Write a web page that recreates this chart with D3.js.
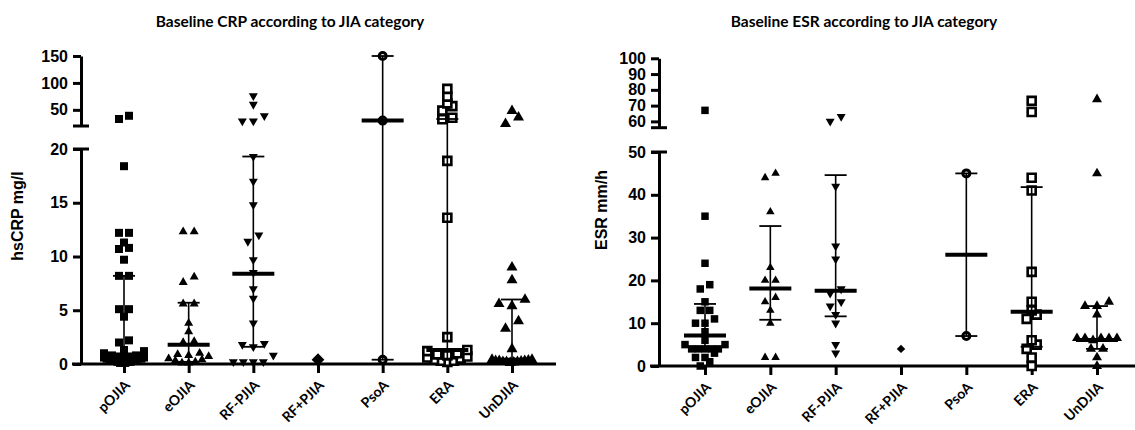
<!DOCTYPE html>
<html>
<head>
<meta charset="utf-8">
<script src="https://cdn.jsdelivr.net/npm/d3@7"></script>
<style>
body { margin: 0; background: #fff; }
svg { display: block; }
</style>
</head>
<body>
<svg id="canvas" width="1135" height="430"></svg>
<script>
let categories = ["pOJIA", "eOJIA", "RF-PJIA", "RF+PJIA", "PsoA", "ERA", "UnDJIA"]

// baseline hsCRP (mg/l), one list per category
let crpPOJIA = [39, 33, 18.4, 12.2, 12.2, 11.3, 10.8, 10.7, 9.7, 8.2, 8.2, 5.1, 5.1, 4.4, 2.2, 2.0, 1.3, 1.2, 1.0,
  0.8, 0.8, 0.7, 0.7, 0.6, 0.6, 0.5, 0.5, 0.5, 0.4, 0.4, 0.3, 0.3, 0.3, 0.2, 0.2, 0.2, 0.1, 0.1, 0.1]
let crpEOJIA = [12.3, 12.3, 8.1, 7.6, 5.6, 5.6, 3.8, 3.0, 2.1, 2.0, 1.0, 0.9, 0.8, 0.7, 0.5, 0.4, 0.3, 0.2, 0.1, 0.1]
let crpRFminus = [76, 60, 39, 29, 29, 19.3, 17.0, 14.8, 12.0, 11.4, 9.7, 8.5, 7.0, 6.1, 3.8, 1.9, 1.8, 1.6, 0.8, 0.2, 0.2, 0.2, 0.2]
let crpRFplus = [0.4]
let crpPsoA = [150, 30, 0.4]
let crpERA = [89, 74.5, 62, 57, 48.5, 35.4, 32.5, 18.9, 13.6, 2.5, 1.3, 1.2, 1.0, 0.9, 0.8, 0.7, 0.6, 0.5, 0.4, 0.3, 0.3, 0.2]
let crpUnDJIA = [48, 36, 24, 9.0, 7.8, 6.0, 5.6, 5.4, 4.0, 3.3, 1.4, 0.4, 0.4, 0.35, 0.3, 0.3, 0.3, 0.25, 0.2, 0.2, 0.2, 0.15, 0.1]

let crpMedian = [0.8, 1.8, 8.4, null, 30, 1.3, 0.4]
let crpQ1 = [0.3, 0.2, 1.6, null, 0.4, 0.5, 0.2]
let crpQ3 = [8.2, 5.7, 19.3, null, 150, 33, 6.0]

let crpTicksLow = [0, 5, 10, 15, 20]
let crpTicksHigh = [50, 100, 150]

// baseline ESR (mm/h), one list per category
let esrPOJIA = [67, 35, 24, 19, 18, 15, 13, 13, 11, 10, 10, 8, 6, 5, 5, 4, 4, 4, 4, 4, 3, 2, 2, 1, 0]
let esrEOJIA = [45, 44, 36, 23, 20, 20, 16, 15, 13, 10, 2, 2]
let esrRFminus = [63, 60, 42, 28, 25, 18, 17, 15, 14, 12, 10, 5, 3]
let esrRFplus = [4]
let esrPsoA = [45, 7]
let esrERA = [73, 66, 44, 41, 22, 15, 13, 12, 11, 6, 5, 4, 2, 0]
let esrUnDJIA = [74, 45, 15, 14, 14, 12, 6.5, 6.5, 6.5, 6.5, 6.5, 6, 4, 4, 2, 0]

let esrMedian = [7.1, 18.1, 17.6, null, 26, 12.7, 6.1]
let esrQ1 = [4, 10.8, 11.6, null, 7, 4.5, 4.0]
let esrQ3 = [14.5, 32.7, 44.6, null, 45, 41.8, 14.0]

let esrTicksLow = [0, 10, 20, 30, 40, 50]
let esrTicksHigh = [60, 70, 80, 90, 100]

let canvas = d3.select('#canvas')

// marker look per category: shape, size (px), open or filled
let crpMarkers = [
  {shape: 'square', size: 8}, {shape: 'triangle', size: 9}, {shape: 'triangleDown', size: 9},
  {shape: 'diamond', size: 9}, {shape: 'circle', size: 7, open: true}, {shape: 'square', size: 8, open: true},
  {shape: 'triangle', size: 11}
]
let esrMarkers = [
  {shape: 'square', size: 7.5}, {shape: 'triangle', size: 8.5}, {shape: 'triangleDown', size: 9},
  {shape: 'diamond', size: 6}, {shape: 'circle', size: 7, open: true}, {shape: 'square', size: 8, open: true},
  {shape: 'triangle', size: 10}
]

let markerPath = (m) => {
  if (m.shape === 'square') return d3.symbol(d3.symbolSquare, m.size * m.size)()
  if (m.shape === 'diamond') return d3.symbol(d3.symbolSquare, m.size * m.size)()
  if (m.shape === 'circle') return d3.symbol(d3.symbolCircle, Math.PI * m.size * m.size / 4)()
  return d3.symbol(d3.symbolTriangle, Math.sqrt(3) / 4 * m.size * m.size)()
}
let markerRotate = (m) => {
  if (m.shape === 'triangleDown') return ' rotate(180)'
  if (m.shape === 'diamond') return ' rotate(45)'
  return ''
}

// spread points of similar height side by side, like a column scatter
let spread = (values, y, size, step, maxHalf) => {
  let pts = values.map(v => ({v: v, y: y(v)})).sort((a, b) => b.y - a.y)
  let rows = []
  pts.forEach(p => {
    let row = rows[rows.length - 1]
    if (row && Math.abs(row[0].y - p.y) < size * 0.8) row.push(p)
    else rows.push([p])
  })
  rows.forEach(row => {
    let n = row.length
    let s = n > 1 ? Math.min(step, 2 * maxHalf / (n - 1)) : step
    let slots = []
    if (n % 2 === 1) {
      slots.push(0)
      for (let k = 1; slots.length < n; k++) { slots.push(-k * s); slots.push(k * s) }
    } else {
      for (let k = 0; slots.length < n; k++) { slots.push(-(k + 0.5) * s); slots.push((k + 0.5) * s) }
    }
    row.forEach((p, i) => { p.dx = slots[i] })
  })
  return pts
}

let drawPanel = (cfg) => {
  let g = canvas.append('g')
  let lo = d3.scaleLinear().domain(cfg.lowDomain).range(cfg.lowRange)
  let hi = d3.scaleLinear().domain(cfg.highDomain).range(cfg.highRange)
  let y = (v) => v <= cfg.lowDomain[1] ? lo(v) : hi(v)
  let x = d3.scalePoint().domain(categories).range(cfg.xRange)

  // title
  g.append('text')
    .text(cfg.title)
    .attr('x', cfg.titleX)
    .attr('y', 27)
    .attr('text-anchor', 'middle')
    .style('font-family', 'Lato, "Open Sans", sans-serif')
    .style('font-weight', 'bold')
    .style('font-size', '15.5px')

  // y axis, two segments
  let styleAxis = (sel) => {
    sel.selectAll('path, line').attr('stroke', '#000').attr('stroke-width', 3)
    sel.selectAll('text')
      .style('font-family', '"Liberation Sans", Arial, sans-serif')
      .style('font-weight', 'bold')
      .style('font-size', '16px')
      .attr('fill', '#000')
  }
  g.append('g')
    .attr('transform', 'translate(' + cfg.axisX + ',0)')
    .call(d3.axisLeft(lo).tickValues(cfg.ticksLow).tickSize(8).tickSizeOuter(0).tickPadding(5))
    .call(styleAxis)
  g.append('g')
    .attr('transform', 'translate(' + cfg.axisX + ',0)')
    .call(d3.axisLeft(hi).tickValues(cfg.ticksHigh).tickSize(8).tickSizeOuter(0).tickPadding(5))
    .call(styleAxis)
  // break marks on both sides of the axis
  ;[cfg.lowRange[1], cfg.highRange[0]].forEach(yy => {
    g.append('line')
      .attr('x1', cfg.axisX - 8).attr('x2', cfg.axisX + 8)
      .attr('y1', yy).attr('y2', yy)
      .attr('stroke', '#000').attr('stroke-width', 3)
  })

  g.append('text')
    .text(cfg.yLabel)
    .attr('transform', 'translate(' + cfg.yLabelX + ',' + cfg.yLabelY + ') rotate(-90)')
    .attr('text-anchor', 'middle')
    .style('font-family', '"Liberation Sans", Arial, sans-serif')
    .style('font-weight', 'bold')
    .style('font-size', '16px')

  // x axis
  let y0 = lo(0)
  g.append('line')
    .attr('x1', cfg.xAxisStart).attr('x2', cfg.xAxisEnd)
    .attr('y1', y0).attr('y2', y0)
    .attr('stroke', '#000').attr('stroke-width', 3)
  let xAxis = g.append('g')
    .attr('transform', 'translate(0,' + y0 + ')')
    .call(d3.axisBottom(x).tickSize(9).tickSizeOuter(0).tickFormat(() => ''))
  xAxis.select('.domain').remove()
  xAxis.selectAll('line').attr('stroke', '#000').attr('stroke-width', 3)

  // slanted category names
  g.selectAll('.xlabel')
    .data(categories)
    .enter()
    .append('text')
    .attr('class', 'xlabel')
    .text(d => d)
    .attr('transform', d => 'translate(' + (x(d) + 7) + ',' + (y0 + 22) + ') rotate(-45)')
    .attr('text-anchor', 'end')
    .style('font-family', 'Lato, "Open Sans", sans-serif')
    .style('font-weight', 'bold')
    .style('font-size', '14px')

  // points
  categories.forEach((cat, i) => {
    let m = cfg.markers[i]
    let pts = spread(cfg.values[i], y, m.size, m.size + 2, 20)
    g.selectAll('.pt' + i)
      .data(pts)
      .enter()
      .append('path')
      .attr('d', markerPath(m))
      .attr('transform', p => 'translate(' + (x(cat) + p.dx) + ',' + p.y + ')' + markerRotate(m))
      .attr('fill', m.open ? '#fff' : '#000')
      .attr('stroke', m.open ? '#000' : 'none')
      .attr('stroke-width', m.open ? (m.shape === 'circle' ? 3 : 2.6) : 0)
  })

  // median with interquartile range
  categories.forEach((cat, i) => {
    if (cfg.median[i] === null) return
    let cx = x(cat)
    g.append('line')
      .attr('x1', cx).attr('x2', cx)
      .attr('y1', y(cfg.q1[i])).attr('y2', y(cfg.q3[i]))
      .attr('stroke', '#000').attr('stroke-width', 1.6)
    ;[cfg.q1[i], cfg.q3[i]].forEach(v => {
      g.append('line')
        .attr('x1', cx - 11).attr('x2', cx + 11)
        .attr('y1', y(v)).attr('y2', y(v))
        .attr('stroke', '#000').attr('stroke-width', 1.8)
    })
    g.append('line')
      .attr('x1', cx - 21).attr('x2', cx + 21)
      .attr('y1', y(cfg.median[i])).attr('y2', y(cfg.median[i]))
      .attr('stroke', '#000').attr('stroke-width', 4)
  })
}

drawPanel({
  title: 'Baseline CRP according to JIA category',
  titleX: 290,
  yLabel: 'hsCRP mg/l', yLabelX: 23, yLabelY: 216,
  axisX: 81,
  lowDomain: [0, 20], lowRange: [364, 149],
  highDomain: [20, 150], highRange: [126, 56],
  ticksLow: crpTicksLow, ticksHigh: crpTicksHigh,
  xRange: [124, 512], xAxisStart: 72, xAxisEnd: 556,
  values: [crpPOJIA, crpEOJIA, crpRFminus, crpRFplus, crpPsoA, crpERA, crpUnDJIA],
  median: crpMedian, q1: crpQ1, q3: crpQ3,
  markers: crpMarkers
})

drawPanel({
  title: 'Baseline ESR according to JIA category',
  titleX: 864,
  yLabel: 'ESR mm/h', yLabelX: 607, yLabelY: 210,
  axisX: 659,
  lowDomain: [0, 50], lowRange: [366, 152],
  highDomain: [56, 100], highRange: [127.7, 58.3],
  ticksLow: esrTicksLow, ticksHigh: esrTicksHigh,
  xRange: [705, 1097], xAxisStart: 650, xAxisEnd: 1135,
  values: [esrPOJIA, esrEOJIA, esrRFminus, esrRFplus, esrPsoA, esrERA, esrUnDJIA],
  median: esrMedian, q1: esrQ1, q3: esrQ3,
  markers: esrMarkers
})
</script>
</body>
</html>
